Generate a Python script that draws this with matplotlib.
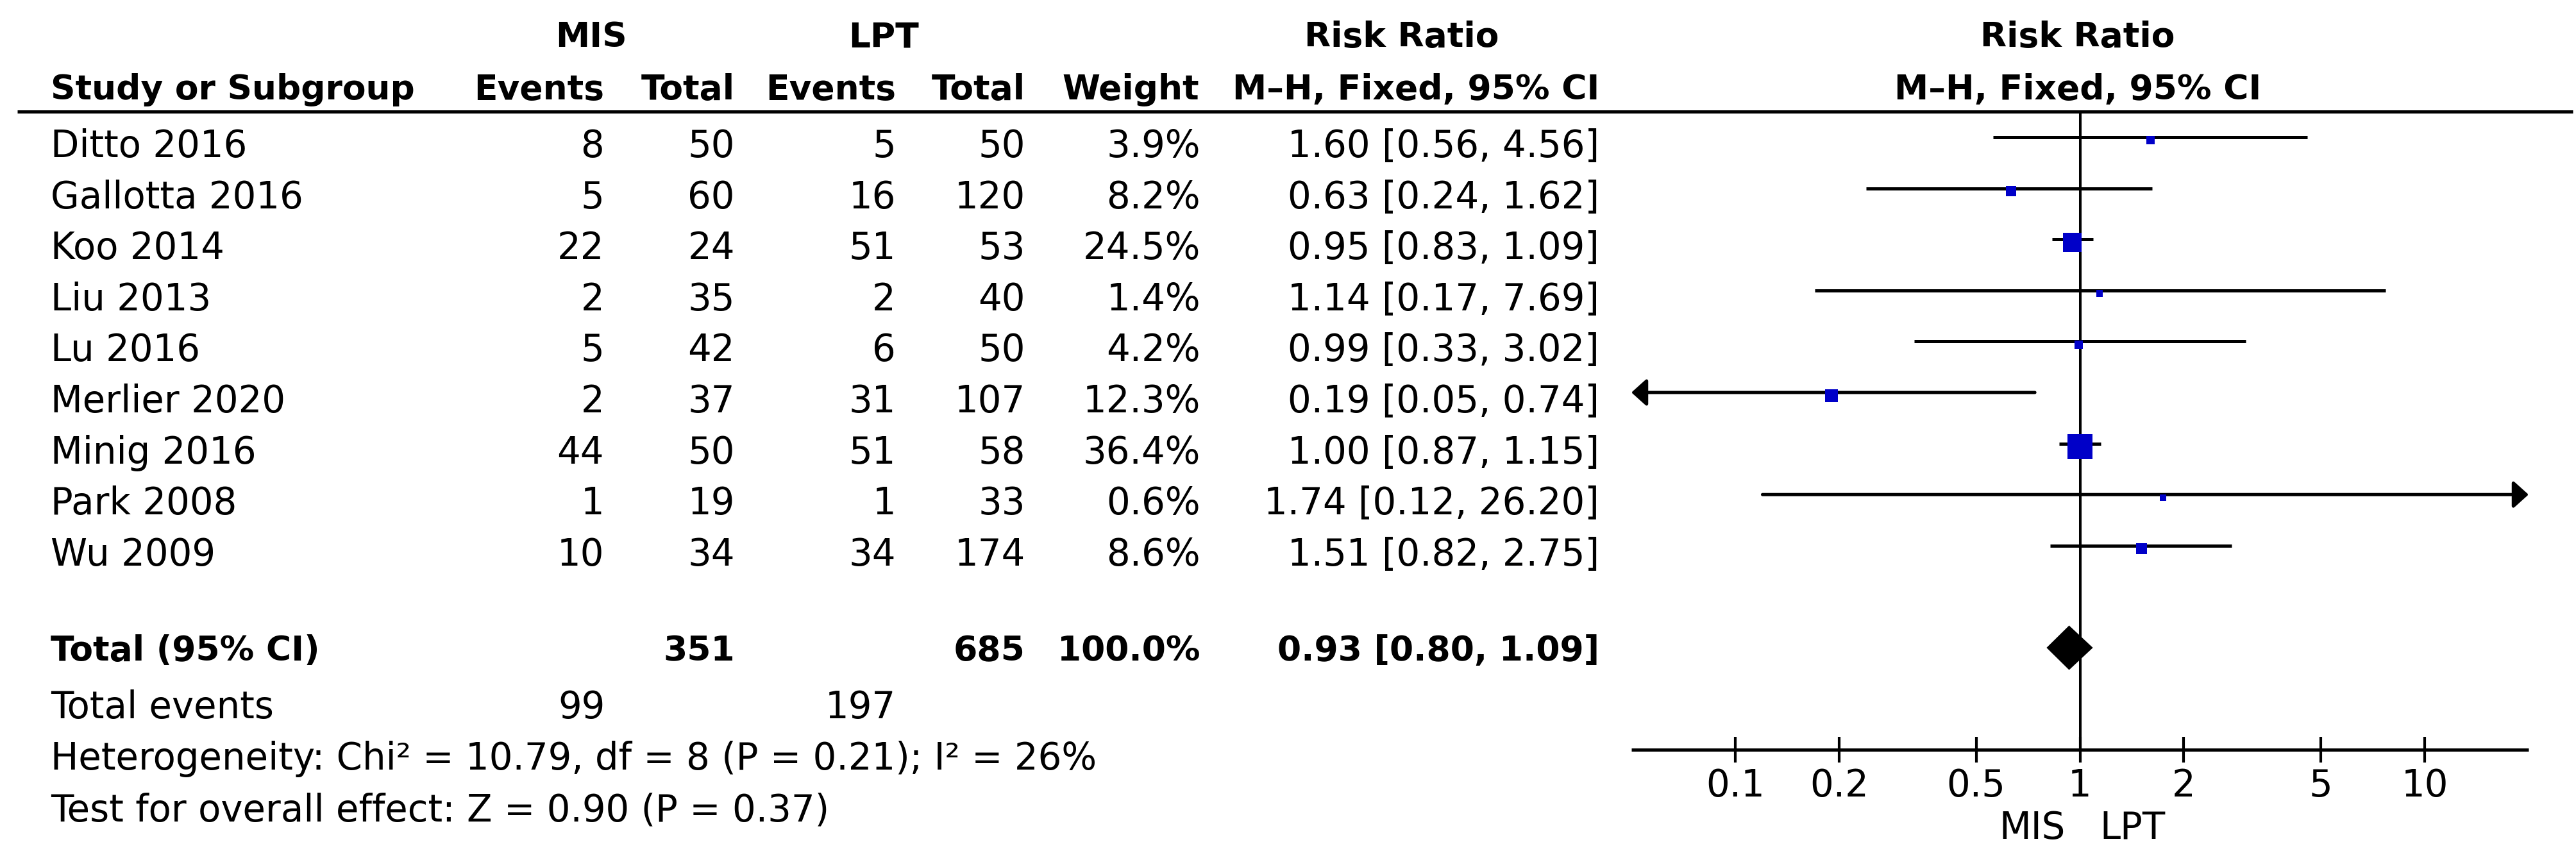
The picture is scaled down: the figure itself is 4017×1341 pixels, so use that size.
import matplotlib
matplotlib.use("Agg")
import matplotlib.pyplot as plt
import numpy as np

# data
studies = ["Ditto 2016", "Gallotta 2016", "Koo 2014", "Liu 2013", "Lu 2016",
           "Merlier 2020", "Minig 2016", "Park 2008", "Wu 2009"]
mis_events = [8, 5, 22, 2, 5, 2, 44, 1, 10]
mis_total = [50, 60, 24, 35, 42, 37, 50, 19, 34]
lpt_events = [5, 16, 51, 2, 6, 31, 51, 1, 34]
lpt_total = [50, 120, 53, 40, 50, 107, 58, 33, 174]
weights = [3.9, 8.2, 24.5, 1.4, 4.2, 12.3, 36.4, 0.6, 8.6]
rr = [1.60, 0.63, 0.95, 1.14, 0.99, 0.19, 1.00, 1.74, 1.51]
ci_lo = [0.56, 0.24, 0.83, 0.17, 0.33, 0.05, 0.87, 0.12, 0.82]
ci_hi = [4.56, 1.62, 1.09, 7.69, 3.02, 0.74, 1.15, 26.20, 2.75]

total_mis, total_lpt = 351, 685
events_mis, events_lpt = 99, 197
total_weight = 100.0
total_rr, total_lo, total_hi = 0.93, 0.80, 1.09
heterogeneity = "Heterogeneity: Chi\u00b2 = 10.79, df = 8 (P = 0.21); I\u00b2 = 26%"
overall = "Test for overall effect: Z = 0.90 (P = 0.37)"
tick_vals = [0.1, 0.2, 0.5, 1, 2, 5, 10]
tick_labels = ["0.1", "0.2", "0.5", "1", "2", "5", "10"]
x_range = (0.05, 20)

# layout (pixels)
W, H = 4017, 1341
ROW0, ROWH = 214, 79.6
RULE_Y, AXIS_Y = 174, 1169
FX0, FX1 = 2544, 3943
REG, BOLD = 41.6, 38.5
BLUE = "#0000C8"

plt.rcParams["font.family"] = ["DejaVu Sans"]

fig = plt.figure(figsize=(W / 100, H / 100), dpi=100)
ax = fig.add_axes([0, 0, 1, 1])
ax.set_xlim(0, W)
ax.set_ylim(H, 0)
ax.axis("off")


def put(x, y, s, ha="left", bold=False):
    ax.text(x, y, s, ha=ha, va="baseline", fontsize=BOLD if bold else REG,
            fontweight="bold" if bold else "normal", color="black")


# headers
put(922, 73, "MIS", "center", True)
put(1378, 73, "LPT", "center", True)
put(2186, 73, "Risk Ratio", "center", True)
put(3240, 73, "Risk Ratio", "center", True)
put(79, 155, "Study or Subgroup", "left", True)
put(942, 155, "Events", "right", True)
put(1146, 155, "Total", "right", True)
put(1397, 155, "Events", "right", True)
put(1599, 155, "Total", "right", True)
put(1870, 155, "Weight", "right", True)
put(2494, 155, "M\u2013H, Fixed, 95% CI", "right", True)
put(3240, 155, "M\u2013H, Fixed, 95% CI", "center", True)
ax.plot([27, 4012], [RULE_Y, RULE_Y], color="black", lw=3.6, solid_capstyle="butt")

# study rows
for i, name in enumerate(studies):
    y = ROW0 + ROWH * i + 31
    put(79, y, name)
    put(942, y, str(mis_events[i]), "right")
    put(1146, y, str(mis_total[i]), "right")
    put(1397, y, str(lpt_events[i]), "right")
    put(1599, y, str(lpt_total[i]), "right")
    put(1872, y, "%.1f%%" % weights[i], "right")
    put(2494, y, "%.2f [%.2f, %.2f]" % (rr[i], ci_lo[i], ci_hi[i]), "right")

n = len(studies)
y_tot = ROW0 + ROWH * (n + 1) + 20
put(79, y_tot, "Total (95% CI)", "left", True)
put(1146, y_tot, str(total_mis), "right", True)
put(1599, y_tot, str(total_lpt), "right", True)
put(1872, y_tot, "%.1f%%" % total_weight, "right", True)
put(2494, y_tot, "%.2f [%.2f, %.2f]" % (total_rr, total_lo, total_hi), "right", True)

put(79, 1120, "Total events")
put(944, 1120, str(events_mis), "right")
put(1397, 1120, str(events_lpt), "right")
put(79, 1200, heterogeneity)
put(79, 1280, overall)

# forest axes
axf = fig.add_axes([FX0 / W, 1 - AXIS_Y / H, (FX1 - FX0) / W, (AXIS_Y - RULE_Y) / H])
axf.set_xscale("log")
axf.set_xlim(*x_range)
axf.set_ylim((AXIS_Y - ROW0) / ROWH, (RULE_Y - ROW0) / ROWH)
axf.patch.set_alpha(0)
for s in ["left", "right", "top"]:
    axf.spines[s].set_visible(False)
axf.spines["bottom"].set_linewidth(3.6)
axf.spines["bottom"].set_capstyle("butt")
axf.set_yticks([])
axf.set_xticks(tick_vals)
axf.set_xticklabels(tick_labels)
axf.xaxis.set_minor_locator(matplotlib.ticker.NullLocator())
axf.tick_params(axis="x", direction="inout", length=28.8, width=3, pad=5.8,
                labelsize=REG, colors="black")
axf.axvline(1, color="black", lw=2.9, zorder=1)

rows = np.arange(n)
arrow_kw = dict(arrowstyle="-|>,head_length=0.4,head_width=0.36", color="black",
                lw=3.6, shrinkA=0, shrinkB=0, mutation_scale=36)
for i in rows:
    lo, hi = ci_lo[i], ci_hi[i]
    if lo <= x_range[0]:
        axf.annotate("", xy=(x_range[0], i), xytext=(hi, i), arrowprops=arrow_kw,
                     annotation_clip=False, zorder=2)
    elif hi >= x_range[1]:
        axf.annotate("", xy=(x_range[1], i), xytext=(lo, i), arrowprops=arrow_kw,
                     annotation_clip=False, zorder=2)
    else:
        axf.plot([lo, hi], [i, i], color="black", lw=3.6, solid_capstyle="butt",
                 zorder=2)

sides = 9.5 + 0.82 * np.array(weights)  # square side in px
axf.scatter(rr, rows + 0.06, marker="s", s=(sides * 0.72) ** 2, color=BLUE,
            linewidths=0, zorder=3)

yt = n + 1
axf.fill([total_lo, total_rr, total_hi, total_rr],
         [yt, yt - 0.435, yt, yt + 0.435], color="black", lw=0, zorder=3)

put(3221, 1308, "MIS", "right")
put(3274, 1308, "LPT", "left")

fig.savefig("out.png", dpi=100)
